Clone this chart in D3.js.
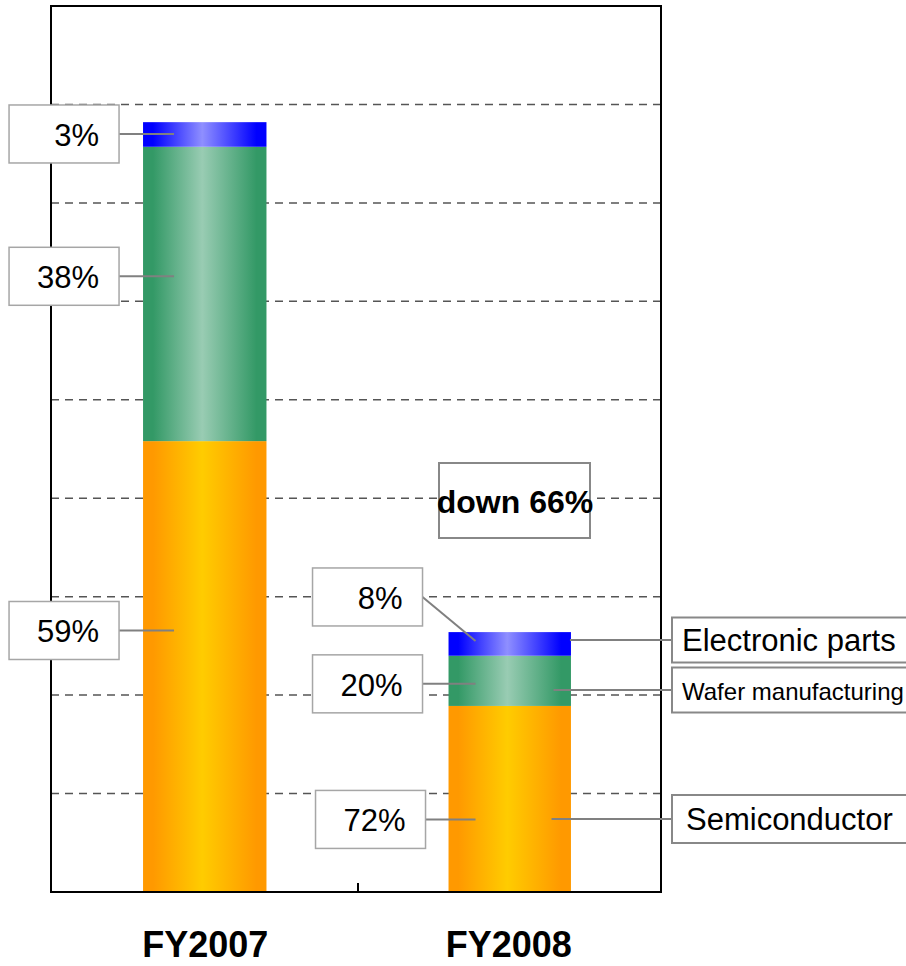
<!DOCTYPE html>
<html>
<head>
<meta charset="utf-8">
<script src="https://cdn.jsdelivr.net/npm/d3@7"></script>
<style>
  html, body { margin: 0; padding: 0; background: #fff; }
  svg { display: block; font-family: Arial, "Liberation Sans", sans-serif; }
</style>
</head>
<body>
<script>
// data
const categories = ["FY2007", "FY2008"];
const seriesKeys = ["Semiconductor", "Wafer manufacturing", "Electronic parts"];
const semiconductor = [45.8, 18.9];
const wafer = [29.9, 5.1];
const electronic = [2.5, 2.4];
const shareFY2007 = ["59%", "38%", "3%"];
const shareFY2008 = ["72%", "20%", "8%"];
const gridTicks = [10, 20, 30, 40, 50, 60, 70, 80];
const changeLabel = "down 66%";

const W = 906, H = 966;
const m = { left: 51, right: 661, top: 6, bottom: 892 };

const table = categories.map((c, i) => ({
  cat: c,
  "Semiconductor": semiconductor[i],
  "Wafer manufacturing": wafer[i],
  "Electronic parts": electronic[i]
}));
const shares = [shareFY2007, shareFY2008];

const stacked = d3.stack().keys(seriesKeys)(table);

const x = d3.scaleBand().domain(categories)
  .range([m.left, m.right]).paddingInner(0.59).paddingOuter(0.3);
const y = d3.scaleLinear().domain([0, 90]).range([m.bottom, m.top]);

const svg = d3.select("body").append("svg")
  .attr("width", W).attr("height", H);

// gradients, dark edges and a light middle
const grads = {
  "Semiconductor": ["#ff9900", "#ffcc00"],
  "Wafer manufacturing": ["#339966", "#99ccb3"],
  "Electronic parts": ["#0000ff", "#8f8fff"]
};
const defs = svg.append("defs");
seriesKeys.forEach((k, i) => {
  const g = defs.append("linearGradient").attr("id", "g" + i)
    .attr("x1", 0).attr("x2", 1).attr("y1", 0).attr("y2", 0);
  [[0, 0], [0.08, 0], [0.48, 1], [0.92, 0], [1, 0]].forEach(s =>
    g.append("stop").attr("offset", s[0]).attr("stop-color", grads[k][s[1]]));
});

// dashed gridlines
svg.append("g").selectAll("line").data(gridTicks).enter().append("line")
  .attr("x1", m.left).attr("x2", m.right)
  .attr("y1", d => y(d)).attr("y2", d => y(d))
  .attr("stroke", "#555").attr("stroke-width", 1.5)
  .attr("stroke-dasharray", "8,6");

// stacked bars
svg.append("g").selectAll("g").data(stacked).enter().append("g")
  .attr("fill", (d, i) => `url(#g${i})`)
  .selectAll("rect").data(d => d).enter().append("rect")
  .attr("x", d => x(d.data.cat) + 1 + (d.data.cat === categories[1] ? 2 : 0))
  .attr("width", d => x.bandwidth() - 1 - (d.data.cat === categories[1] ? 1 : 0))
  .attr("y", d => y(d[1]))
  .attr("height", d => y(d[0]) - y(d[1]));

// frame
svg.append("rect")
  .attr("x", m.left).attr("y", m.top)
  .attr("width", m.right - m.left).attr("height", m.bottom - m.top)
  .attr("fill", "none").attr("stroke", "#000").attr("stroke-width", 2);

// category tick between bars
svg.append("line")
  .attr("x1", (m.left + m.right) / 2 + 2).attr("x2", (m.left + m.right) / 2 + 2)
  .attr("y1", m.bottom).attr("y2", m.bottom - 9)
  .attr("stroke", "#000").attr("stroke-width", 2);

// category labels
svg.append("g").selectAll("text").data(categories).enter().append("text")
  .attr("x", d => x(d) + x.bandwidth() / 2 + 1)
  .attr("y", 957)
  .attr("text-anchor", "middle")
  .attr("font-size", 36).attr("font-weight", "bold")
  .text(d => d);

// percent callouts: where along each segment the leader ends, and box offset
const callout = [
  [{ f: 0.42, dy: 0 }, { f: 0.44, dy: 0 }, { f: 0.48, dy: 0 }],
  [{ f: 0.61, dy: 0 }, { f: 0.56, dy: 0 }, { f: 0.375, dy: -44 }]
];
const boxW = 110, boxH = 58;
const labels = [];
categories.forEach((c, ci) => {
  stacked.forEach((s, si) => {
    const seg = s[ci];
    const ay = y(seg[1]) + callout[ci][si].f * (y(seg[0]) - y(seg[1]));
    const bx = x(c) - 24 - boxW + (ci === 0 ? 1 : 1) + (ci === 1 && si === 0 ? 3 : 0);
    labels.push({
      text: shares[ci][si],
      ax: x(c) + (ci === 0 ? 32 : 30), ay: ay,
      bx: bx, by: ay + callout[ci][si].dy
    });
  });
});

const lab = svg.append("g").selectAll("g").data(labels).enter().append("g");
lab.append("line")
  .attr("x1", d => d.bx + boxW).attr("y1", d => d.by)
  .attr("x2", d => d.ax).attr("y2", d => d.ay)
  .attr("stroke", "#808080").attr("stroke-width", 2);
lab.append("rect")
  .attr("x", d => d.bx).attr("y", d => d.by - boxH / 2)
  .attr("width", boxW).attr("height", boxH)
  .attr("fill", "#fff").attr("stroke", "#a6a6a6").attr("stroke-width", 1.5);
lab.append("text")
  .attr("x", d => d.bx + boxW - 20).attr("y", d => d.by + 12)
  .attr("text-anchor", "end").attr("font-size", 31)
  .text(d => d.text);

// series legend boxes on the right, tied to the FY2008 bar
const last = categories.length - 1;
const legendY = [819, 690, 640];
const legendStart = [x(categories[last]) + 106, x(categories[last]) + 108, x(categories[last]) + x.bandwidth()];
const legendSize = [31, 24, 31];
const legendH = [48, 45, 45];
const lg = svg.append("g").selectAll("g").data(seriesKeys).enter().append("g");
lg.append("line")
  .attr("x1", (d, i) => legendStart[i]).attr("x2", 672)
  .attr("y1", (d, i) => legendY[i]).attr("y2", (d, i) => legendY[i])
  .attr("stroke", "#808080").attr("stroke-width", 2);
lg.append("rect")
  .attr("x", 672).attr("y", (d, i) => legendY[i] - legendH[i] / 2)
  .attr("width", 260).attr("height", (d, i) => legendH[i])
  .attr("fill", "#fff").attr("stroke", "#888").attr("stroke-width", 2);
lg.append("text")
  .attr("x", (d, i) => i === 0 ? 686 : 682)
  .attr("y", (d, i) => legendY[i] + (i === 1 ? 10 : 11))
  .attr("font-size", (d, i) => legendSize[i])
  .text(d => d);

// change annotation
svg.append("rect")
  .attr("x", 439).attr("y", 463).attr("width", 151).attr("height", 75)
  .attr("fill", "#fff").attr("stroke", "#888").attr("stroke-width", 2);
svg.append("text")
  .attr("x", 515).attr("y", 513)
  .attr("text-anchor", "middle").attr("font-size", 32).attr("font-weight", "bold")
  .text(changeLabel);
</script>
</body>
</html>
